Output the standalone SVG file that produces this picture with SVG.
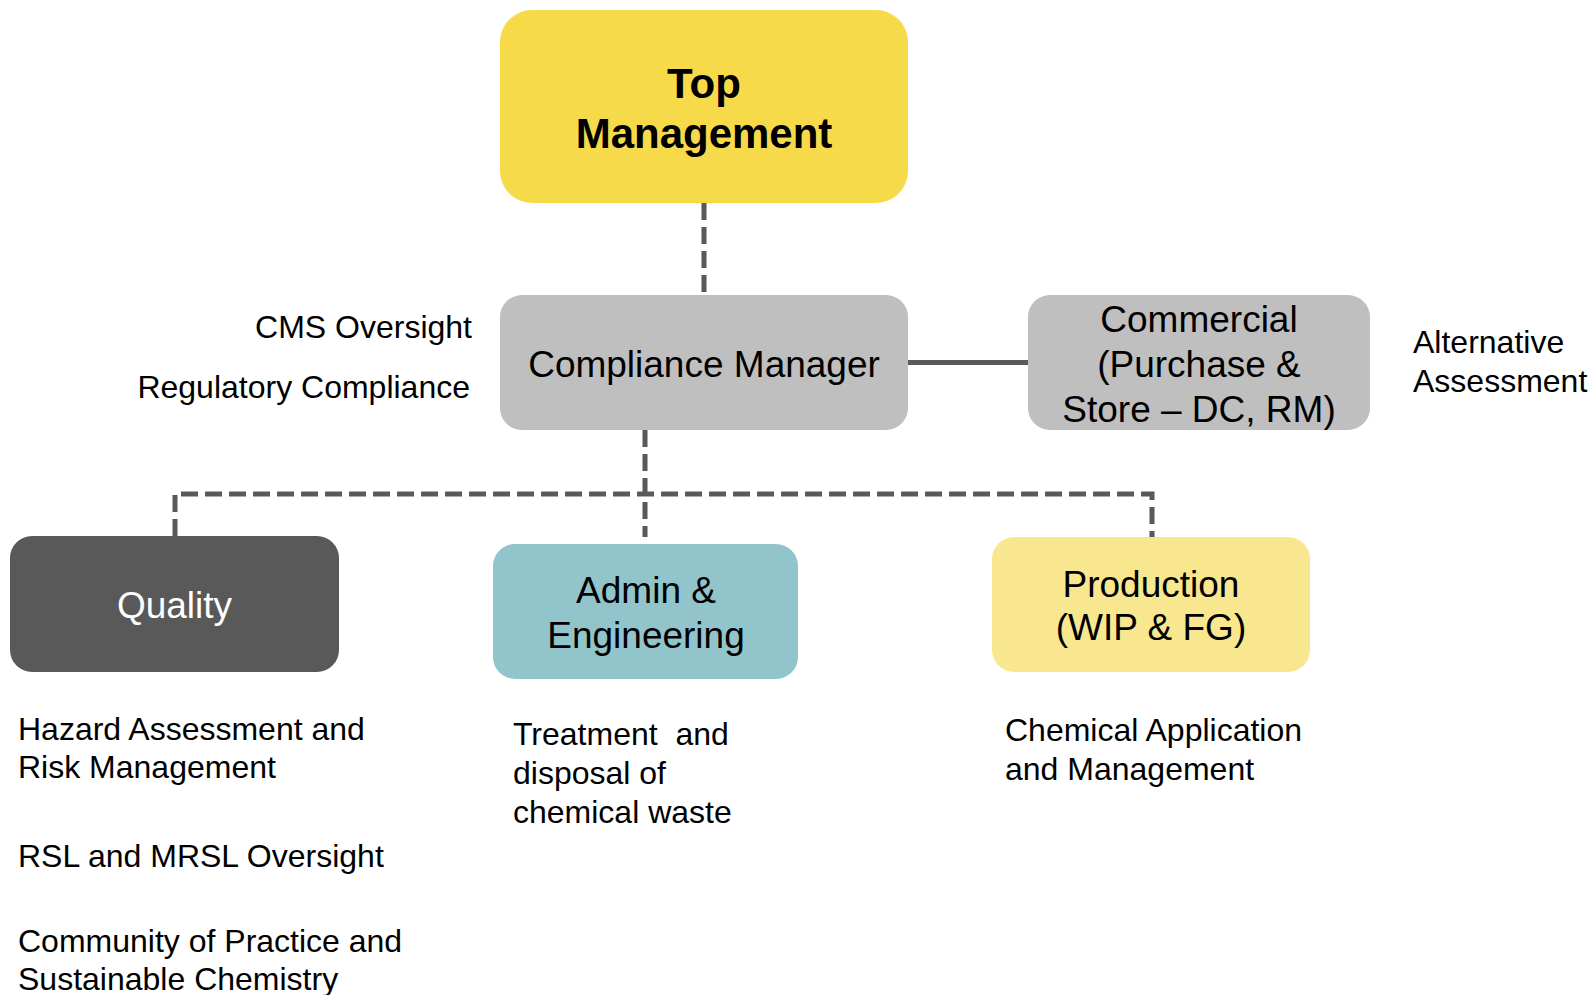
<svg xmlns="http://www.w3.org/2000/svg" width="1592" height="995" viewBox="0 0 1592 995">
  <style>
    text { font-family: "Liberation Sans", Arial, sans-serif; fill: #000; }
    .box-title { font-size: 37px; text-anchor: middle; }
    .note { font-size: 32px; }
    .dash { fill: none; stroke: #595959; stroke-width: 5; stroke-dasharray: 17 7; }
    .solid { fill: none; stroke: #595959; stroke-width: 5; }
  </style>

  <rect width="1592" height="995" fill="#ffffff"/>

  <!-- connectors -->
  <g id="connectors">
    <path class="dash" d="M704,203 V295"/>
    <path class="solid" d="M908,362.5 H1028"/>
    <path class="dash" d="M645,430 V537"/>
    <path class="dash" d="M175,536 V494 H1152 V537"/>
  </g>

  <!-- nodes -->
  <g id="top-management">
    <rect x="500" y="10" width="408" height="193" rx="32" fill="#F7DA4A"/>
    <text x="704" y="98" text-anchor="middle" font-size="42" font-weight="bold">Top</text>
    <text x="704" y="148" text-anchor="middle" font-size="42" font-weight="bold">Management</text>
  </g>

  <g id="compliance-manager">
    <rect x="500" y="295" width="408" height="135" rx="22" fill="#BFBFBF"/>
    <text class="box-title" x="704" y="377">Compliance Manager</text>
  </g>

  <g id="commercial">
    <rect x="1028" y="295" width="342" height="135" rx="22" fill="#BFBFBF"/>
    <text class="box-title" x="1199" y="332">Commercial</text>
    <text class="box-title" x="1199" y="377">(Purchase &amp;</text>
    <text class="box-title" x="1199" y="422">Store – DC, RM)</text>
  </g>

  <g id="quality">
    <rect x="10" y="536" width="329" height="136" rx="22" fill="#595959"/>
    <text class="box-title" x="174.5" y="618" style="fill:#ffffff">Quality</text>
  </g>

  <g id="admin-engineering">
    <rect x="493" y="544" width="305" height="135" rx="22" fill="#92C5CB"/>
    <text class="box-title" x="646" y="603">Admin &amp;</text>
    <text class="box-title" x="646" y="648">Engineering</text>
  </g>

  <g id="production">
    <rect x="992" y="537" width="318" height="135" rx="22" fill="#F9E78F"/>
    <text class="box-title" x="1151" y="597">Production</text>
    <text class="box-title" x="1151" y="640">(WIP &amp; FG)</text>
  </g>

  <!-- responsibility notes -->
  <g id="compliance-notes">
    <text class="note" x="472" y="338" text-anchor="end">CMS Oversight</text>
    <text class="note" x="470" y="398" text-anchor="end">Regulatory Compliance</text>
  </g>

  <g id="commercial-notes">
    <text class="note" x="1413" y="353">Alternative</text>
    <text class="note" x="1413" y="392">Assessment</text>
  </g>

  <g id="quality-notes">
    <text class="note" x="18" y="740">Hazard Assessment and</text>
    <text class="note" x="18" y="778">Risk Management</text>
    <text class="note" x="18" y="867">RSL and MRSL Oversight</text>
    <text class="note" x="18" y="952">Community of Practice and</text>
    <text class="note" x="18" y="990">Sustainable Chemistry</text>
  </g>

  <g id="admin-notes">
    <text class="note" x="513" y="745" xml:space="preserve">Treatment  and</text>
    <text class="note" x="513" y="784">disposal of</text>
    <text class="note" x="513" y="823">chemical waste</text>
  </g>

  <g id="production-notes">
    <text class="note" x="1005" y="741">Chemical Application</text>
    <text class="note" x="1005" y="780">and Management</text>
  </g>
</svg>
